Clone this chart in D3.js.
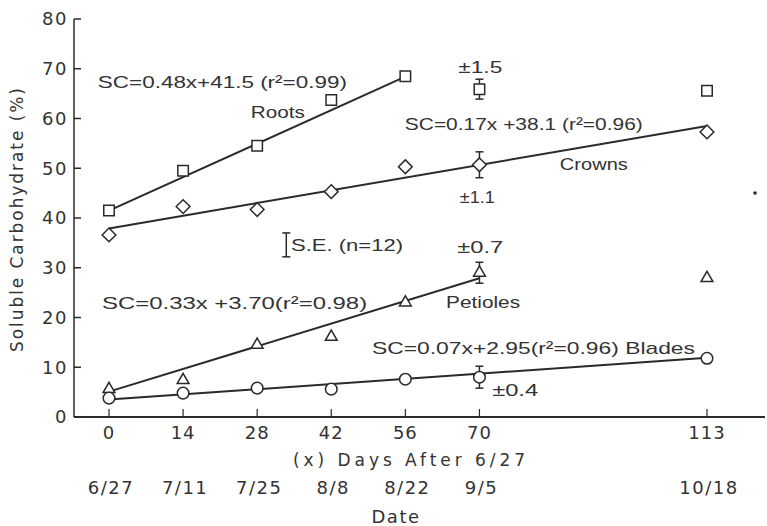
<!DOCTYPE html>
<html>
<head>
<meta charset="utf-8">
<script src="https://cdn.jsdelivr.net/npm/d3@7"></script>
<style>
  body { margin: 0; background: #fff; }
  svg text { font-family: "Liberation Sans", "DejaVu Sans", sans-serif; fill: #333; }
  svg text.axis-text { font-family: "DejaVu Sans", sans-serif; }
</style>
</head>
<body>
<div id="vis"></div>
<script>
const days = [0, 14, 28, 42, 56, 70, 113];
const dateLabels = ["6/27", "7/11", "7/25", "8/8", "8/22", "9/5", "10/18"];
const yTicks = [0, 10, 20, 30, 40, 50, 60, 70, 80];

const roots = [41.5, 49.5, 54.5, 63.7, 68.5, 65.9, 65.6];
const crowns = [36.6, 42.3, 41.7, 45.3, 50.3, 50.7, 57.3];
const petioles = [5.6, 7.4, 14.5, 16.1, 23.0, 29.0, 27.9];
const blades = [3.8, 4.8, 5.8, 5.6, 7.6, 8.0, 11.8];

// fitted lines as [day, value] end points
const rootsFit = [[0, 41.5], [56, 68.4]];
const crownsFit = [[0, 37.9], [113, 58.5]];
const petiolesFit = [[0, 5.1], [70, 27.9]];
const bladesFit = [[0, 3.5], [113, 11.9]];

// standard errors drawn at day 70
const seDay = 70;
const seValues = {roots: 2.0, crowns: 2.6, petioles: 2.1, blades: 2.2};

// text notes: [day, value, text, width in px]
const notes = [
    [-2.1, 67.3, "SC=0.48x+41.5 (r²=0.99)", 249],
    [26.8, 61.3, "Roots", 54],
    [66.0, 70.4, "±1.5", 44],
    [55.9, 58.9, "SC=0.17x +38.1 (r²=0.96)", 238],
    [85.2, 50.9, "Crowns", 68],
    [66.3, 44.2, "±1.1", 35],
    [34.4, 34.6, "S.E. (n=12)", 112],
    [65.8, 34.2, "±0.7", 46],
    [-1.3, 23.0, "SC=0.33x +3.70(r²=0.98)", 265],
    [63.7, 23.2, "Petioles", 74],
    [49.7, 13.9, "SC=0.07x+2.95(r²=0.96) Blades", 323],
    [72.4, 5.4, "±0.4", 46]
];

const width = 767;
const height = 526;
const ink = "#2a2a2a";

const svg = d3.select("#vis")
    .append("svg")
    .attr("width", width)
    .attr("height", height);

const xScale = d3.scaleLinear()
    .domain([0, 113])
    .range([109, 707]);

const yScale = d3.scaleLinear()
    .domain([0, 80])
    .range([417, 19]);

// axes
const yAxis = svg.append("g")
    .attr("transform", `translate(${xScale(0) - 35}, 0)`);

yAxis.append("line")
    .attr("x1", 0).attr("x2", 0)
    .attr("y1", yScale(80)).attr("y2", yScale(0))
    .attr("stroke", ink).attr("stroke-width", 1.5);

yAxis.selectAll(".ytick")
    .data(yTicks)
    .join("line")
        .attr("class", "ytick")
        .attr("x1", 0).attr("x2", 7)
        .attr("y1", d => yScale(d)).attr("y2", d => yScale(d))
        .attr("stroke", ink).attr("stroke-width", 1.5);

yAxis.selectAll(".ylabel")
    .data(yTicks)
    .join("text")
        .attr("class", "ylabel axis-text")
        .attr("text-anchor", "end")
        .attr("x", -6)
        .attr("y", d => yScale(d))
        .attr("dy", "0.36em")
        .style("font-size", "18px")
        .style("letter-spacing", "1.5px")
        .text(d => d);

const xAxis = svg.append("g")
    .attr("transform", `translate(0, ${yScale(0)})`);

xAxis.append("line")
    .attr("x1", xScale(0) - 35).attr("x2", width - 2)
    .attr("y1", 0).attr("y2", 0)
    .attr("stroke", ink).attr("stroke-width", 2);

xAxis.selectAll(".xtick")
    .data(days)
    .join("line")
        .attr("class", "xtick")
        .attr("x1", d => xScale(d)).attr("x2", d => xScale(d))
        .attr("y1", 0).attr("y2", -8)
        .attr("stroke", ink).attr("stroke-width", 1.2);

xAxis.selectAll(".xlabel")
    .data(days)
    .join("text")
        .attr("class", "xlabel axis-text")
        .attr("text-anchor", "middle")
        .attr("x", d => xScale(d))
        .attr("y", 16)
        .attr("dy", "0.36em")
        .style("font-size", "18px")
        .style("letter-spacing", "1px")
        .text(d => d);

xAxis.append("text")
    .attr("class", "axis-text")
    .attr("text-anchor", "middle")
    .attr("x", 409)
    .attr("y", 43)
    .attr("dy", "0.36em")
    .attr("textLength", 232)
    .style("font-size", "17px")
    .text("(x)  Days  After  6/27");

xAxis.selectAll(".date")
    .data(days)
    .join("text")
        .attr("class", "date axis-text")
        .attr("text-anchor", "middle")
        .attr("x", d => xScale(d) + 2)
        .attr("y", 71)
        .attr("dy", "0.36em")
        .style("font-size", "18px")
        .style("letter-spacing", "1.5px")
        .text((d, i) => dateLabels[i]);

xAxis.append("text")
    .attr("class", "axis-text")
    .attr("text-anchor", "middle")
    .attr("x", 396)
    .attr("y", 100)
    .attr("dy", "0.36em")
    .style("font-size", "18px")
    .style("letter-spacing", "1.5px")
    .text("Date");

svg.append("text")
    .attr("class", "axis-text")
    .attr("text-anchor", "middle")
    .attr("transform", `translate(17, 220) rotate(-90)`)
    .attr("dy", "0.36em")
    .attr("textLength", 264)
    .style("font-size", "17px")
    .text("Soluble  Carbohydrate  (%)");

// fitted lines
const line = d3.line()
    .x(d => xScale(d[0]))
    .y(d => yScale(d[1]));

svg.selectAll(".fit")
    .data([rootsFit, crownsFit, petiolesFit, bladesFit])
    .join("path")
        .attr("class", "fit")
        .attr("d", line)
        .attr("fill", "none")
        .attr("stroke", ink)
        .attr("stroke-width", 2);

// error bars at day 70
const series = [
    {name: "roots", values: roots, shape: d3.symbolSquare, size: 110},
    {name: "crowns", values: crowns, shape: d3.symbolDiamond2, size: 120},
    {name: "petioles", values: petioles, shape: d3.symbolTriangle2, size: 100},
    {name: "blades", values: blades, shape: d3.symbolCircle, size: 105}
];

const errData = series.map(s => ({
    day: seDay,
    value: s.values[days.indexOf(seDay)],
    se: seValues[s.name]
}));

const gErr = svg.selectAll(".err")
    .data(errData)
    .join("g")
        .attr("class", "err")
        .attr("transform", d => `translate(${xScale(d.day)}, 0)`);

gErr.append("line")
    .attr("x1", 0).attr("x2", 0)
    .attr("y1", d => yScale(d.value + d.se))
    .attr("y2", d => yScale(d.value - d.se))
    .attr("stroke", ink).attr("stroke-width", 1.5);

gErr.selectAll(".cap")
    .data(d => [d.value + d.se, d.value - d.se])
    .join("line")
        .attr("class", "cap")
        .attr("x1", -4).attr("x2", 4)
        .attr("y1", d => yScale(d)).attr("y2", d => yScale(d))
        .attr("stroke", ink).attr("stroke-width", 1.5);

// S.E. key bar
const seKey = svg.append("g")
    .attr("transform", `translate(${xScale(33.5)}, 0)`);

seKey.append("line")
    .attr("x1", 0).attr("x2", 0)
    .attr("y1", yScale(37)).attr("y2", yScale(32.2))
    .attr("stroke", ink).attr("stroke-width", 1.5);

seKey.selectAll(".cap")
    .data([37, 32.2])
    .join("line")
        .attr("class", "cap")
        .attr("x1", -4).attr("x2", 4)
        .attr("y1", d => yScale(d)).attr("y2", d => yScale(d))
        .attr("stroke", ink).attr("stroke-width", 1.5);

// markers
const gSeries = svg.selectAll(".series")
    .data(series)
    .join("g")
        .attr("class", "series");

gSeries.selectAll(".marker")
    .data(s => s.values.map((v, i) => ({day: days[i], value: v, shape: s.shape, size: s.size})))
    .join("path")
        .attr("class", "marker")
        .attr("transform", d => `translate(${xScale(d.day)}, ${yScale(d.value)})`)
        .attr("d", d => d3.symbol().type(d.shape).size(d.size)())
        .attr("fill", "#fff")
        .attr("stroke", ink)
        .attr("stroke-width", 1.5);

// stray dot at right
svg.append("circle")
    .attr("cx", 755)
    .attr("cy", 193)
    .attr("r", 1.8)
    .attr("fill", ink);

// notes
svg.selectAll(".note")
    .data(notes)
    .join("text")
        .attr("class", "note")
        .attr("x", d => xScale(d[0]))
        .attr("y", d => yScale(d[1]))
        .attr("dy", "0.36em")
        .attr("textLength", d => d[3])
        .attr("lengthAdjust", "spacingAndGlyphs")
        .style("font-size", "17px")
        .text(d => d[2]);
</script>
</body>
</html>
